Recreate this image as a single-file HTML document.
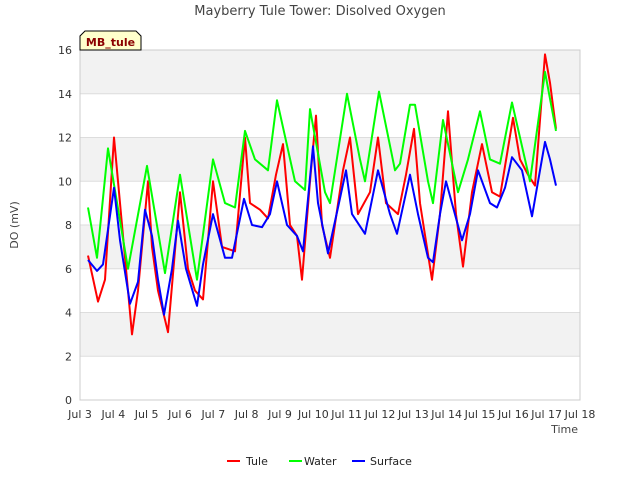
<!DOCTYPE html>
<html><head><meta charset="utf-8"><style>
body{margin:0;background:#fff;font-family:"Liberation Sans","DejaVu Sans",sans-serif}
svg text{font-family:"DejaVu Sans","Liberation Sans",sans-serif}
</style></head><body>
<svg id="chart" width="640" height="480" xmlns="http://www.w3.org/2000/svg">
<rect width="640" height="480" fill="#fff"/>
<g id="bands"></g>
<g id="grid"></g>
<rect x="80" y="50" width="500" height="350" fill="none" stroke="#ccc"/>
<g id="ticks"></g>
<g id="series"></g>
<text x="320" y="15" text-anchor="middle" font-size="13" fill="#444">Mayberry Tule Tower: Disolved Oxygen</text>
<text transform="translate(18,225) rotate(-90)" text-anchor="middle" font-size="11" fill="#444">DO (mV)</text>
<text x="578" y="433" text-anchor="end" font-size="11" fill="#444">Time</text>
<g>
<path d="M80,50 L80,36 L85,31 L136,31 L141,36 L141,50 Z" fill="#ffffcc" stroke="#000"/>
<text x="110.5" y="46" text-anchor="middle" font-size="11" font-weight="bold" fill="#8b0000">MB_tule</text>
</g>
<g id="legend">
<line x1="227" y1="461" x2="240" y2="461" stroke="#f00" stroke-width="2"/><text x="246" y="465" font-size="11" fill="#222">Tule</text>
<line x1="289" y1="461" x2="302" y2="461" stroke="#0f0" stroke-width="2"/><text x="304" y="465" font-size="11" fill="#222">Water</text>
<line x1="352" y1="461" x2="365" y2="461" stroke="#00f" stroke-width="2"/><text x="370" y="465" font-size="11" fill="#222">Surface</text>
</g>
</svg>
<script>
const xTicks=[3,4,5,6,7,8,9,10,11,12,13,14,15,16,17,18];
const yTicks=[0,2,4,6,8,10,12,14,16];
const waterT=[3.24,3.51,3.84,4.44,5.01,5.55,6.0,6.51,6.99,7.35,7.65,7.95,8.25,8.64,8.91,9.45,9.75,9.9,10.35,10.5,11.01,11.4,11.55,11.97,12.45,12.6,12.9,13.05,13.44,13.59,13.89,14.34,14.64,15.0,15.3,15.6,15.96,16.35,16.5,16.95,17.28];
const waterV=[8.8,6.5,11.5,6,10.7,5.8,10.3,5.5,11,9,8.8,12.3,11,10.5,13.7,10,9.6,13.3,9.5,9,14,11,10,14.1,10.5,10.8,13.5,13.5,10,9,12.8,9.5,11,13.2,11,10.8,13.6,11,10,15,12.3];
const tuleT=[3.24,3.54,3.75,4.02,4.26,4.56,4.74,5.04,5.16,5.34,5.64,6.0,6.24,6.45,6.69,6.99,7.26,7.65,7.95,8.1,8.4,8.64,8.88,9.09,9.3,9.51,9.66,9.9,10.08,10.26,10.5,10.89,11.1,11.34,11.7,11.94,12.18,12.54,12.78,13.02,13.2,13.56,13.8,14.04,14.28,14.49,14.76,15.06,15.36,15.6,15.99,16.2,16.44,16.65,16.95,17.1,17.28];
const tuleV=[6.6,4.5,5.5,12,8,3,5,10,7,5,3.1,9.5,6,5,4.6,10,7,6.8,12,9,8.7,8.3,10.3,11.7,8,7.5,5.5,10,13,8,6.5,10.5,12,8.5,9.5,12,9,8.5,10.3,12.4,9,5.5,8.5,13.2,8.5,6.1,9.5,11.7,9.5,9.3,12.9,11,10.3,9.8,15.8,14.5,12.4];
const surfT=[3.24,3.51,3.69,4.02,4.2,4.5,4.74,4.95,5.16,5.34,5.52,5.76,5.94,6.18,6.51,6.69,6.99,7.35,7.56,7.92,8.16,8.46,8.7,8.91,9.21,9.51,9.69,9.99,10.14,10.44,10.74,10.98,11.16,11.55,11.94,12.3,12.51,12.9,13.14,13.44,13.59,13.8,13.98,14.46,14.7,14.94,15.3,15.51,15.75,15.96,16.26,16.56,16.8,16.95,17.1,17.28];
const surfV=[6.4,5.9,6.2,9.7,7.3,4.4,5.4,8.7,7.5,5.5,3.9,6,8.2,6,4.3,6.2,8.5,6.5,6.5,9.2,8,7.9,8.5,10,8,7.5,6.8,11.6,9,6.7,8.8,10.5,8.5,7.6,10.5,8.5,7.6,10.3,8.5,6.5,6.3,8.5,10,7.3,8.5,10.5,9,8.8,9.7,11.1,10.5,8.4,10.5,11.8,11,9.8];
const NS='http://www.w3.org/2000/svg';
const X=d=>80+(d-3)*500/15, Y=v=>400-v*350/16;
function mk(tag,attrs,parent){const e=document.createElementNS(NS,tag);for(const k in attrs)e.setAttribute(k,attrs[k]);document.getElementById(parent).appendChild(e);return e;}
for(let i=1;i<yTicks.length-1;i+=2){
 const b=mk('rect',{x:80,y:Y(yTicks[i+1]),width:500,height:Y(yTicks[i])-Y(yTicks[i+1]),fill:'#f2f2f2'},'bands');
 
 
}
yTicks.forEach(v=>{
 const l=mk('line',{x1:80,x2:580,y1:Y(v),y2:Y(v),stroke:'#ddd'},'grid');
 
 
 const t=mk('text',{x:72,y:Y(v)+4,'text-anchor':'end','font-size':11,fill:'#333'},'ticks');t.textContent=v;
 
 
});
xTicks.forEach(d=>{
 const t=mk('text',{x:X(d),y:418,'text-anchor':'middle','font-size':11,fill:'#333'},'ticks');t.textContent='Jul '+d;
 
 
});
function line(T,V,color,name){
 const p=mk('polyline',{points:T.map((t,i)=>X(t).toFixed(1)+','+Y(V[i]).toFixed(1)).join(' '),fill:'none',stroke:color,'stroke-width':2,'stroke-linejoin':'round'},'series');
 
 
}
line(tuleT,tuleV,'#f00','tule-line');
line(waterT,waterV,'#0f0','water-line');
line(surfT,surfV,'#00f','surface-line');
</script>
</body></html>
